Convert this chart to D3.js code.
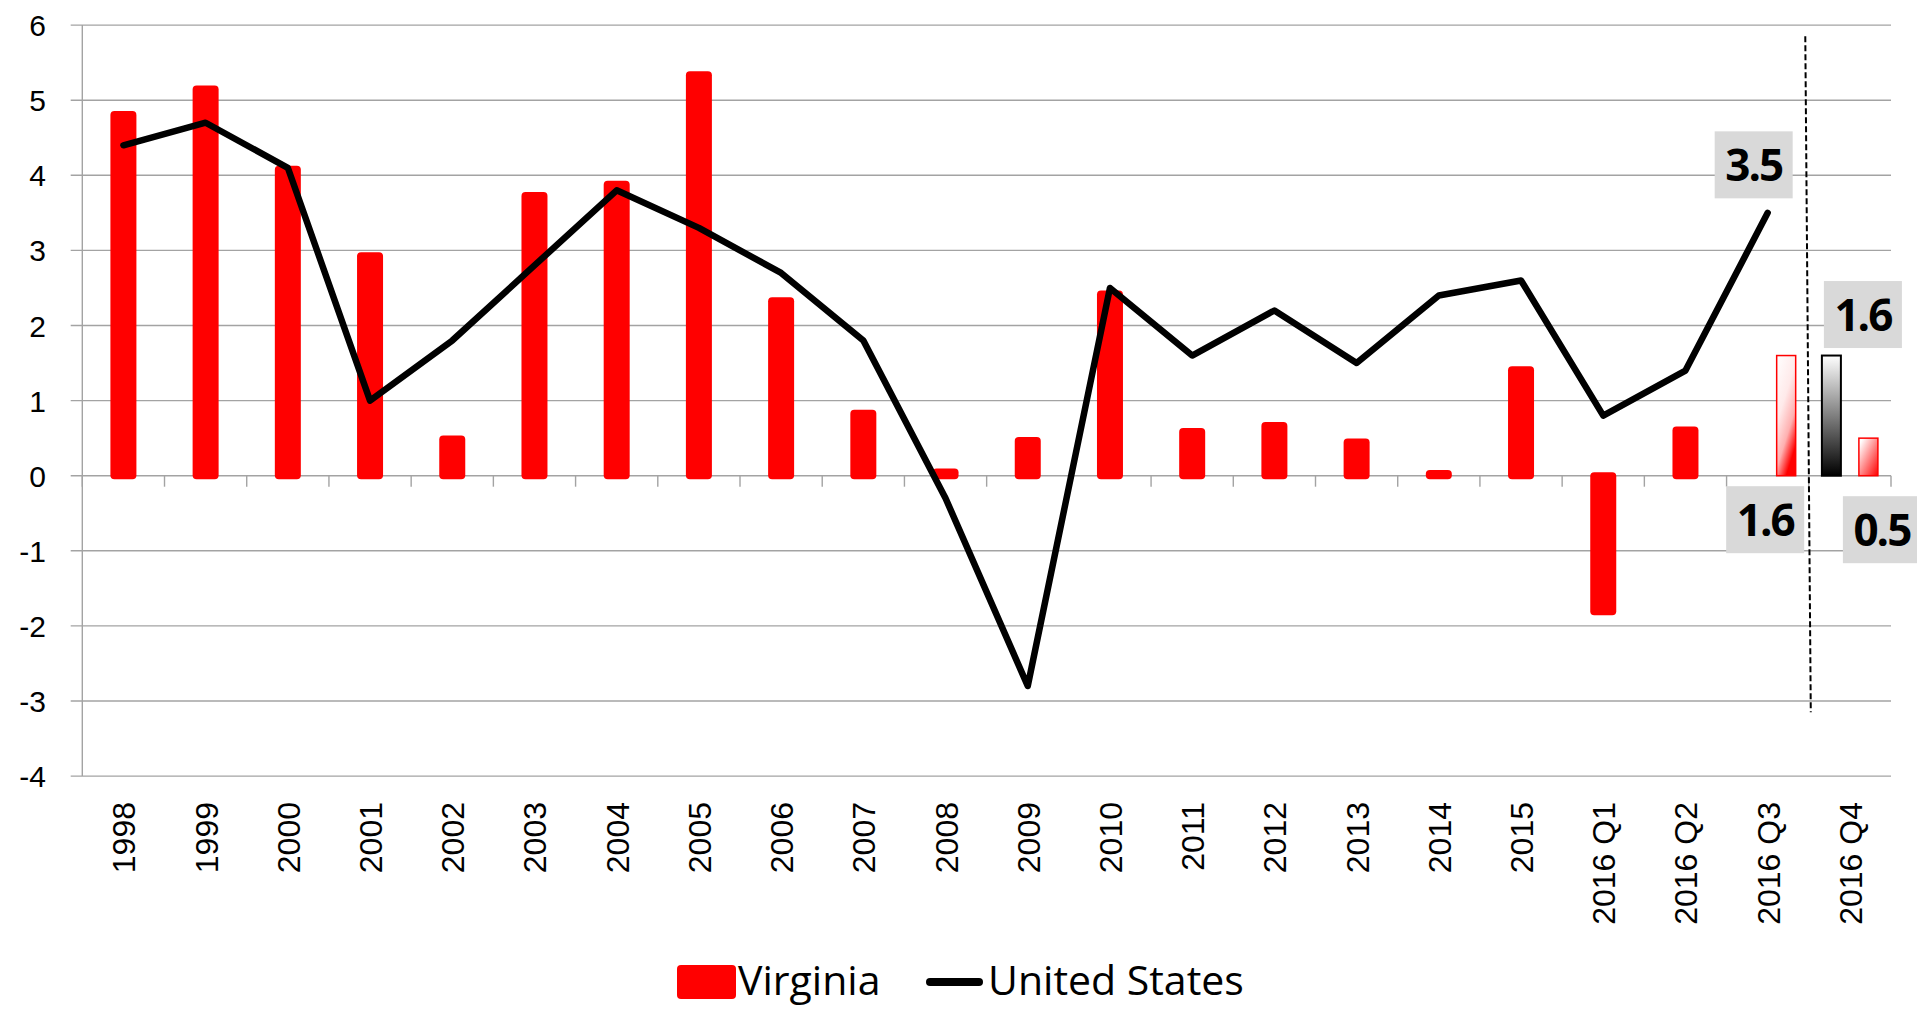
<!DOCTYPE html>
<html>
<head>
<meta charset="utf-8">
<script src="https://cdn.jsdelivr.net/npm/d3@7"></script>
<style>
  body { margin: 0; background: #fff; }
  svg { display: block; }
</style>
</head>
<body>
<div id="chart"></div>
<script>
// categories on the x axis
var categories = ['1998', '1999', '2000', '2001', '2002', '2003', '2004', '2005', '2006', '2007',
  '2008', '2009', '2010', '2011', '2012', '2013', '2014', '2015',
  '2016 Q1', '2016 Q2', '2016 Q3', '2016 Q4'];

// Virginia (red bars)
var virginia = [4.81, 5.15, 4.08, 2.93, 0.49, 3.73, 3.88, 5.34, 2.33, 0.83,
  0.05, 0.47, 2.42, 0.59, 0.67, 0.45, 0.03, 1.41,
  -1.81, 0.61, null, null];

// United States (black line)
var unitedStates = [4.4, 4.7, 4.1, 1.0, 1.8, 2.8, 3.8, 3.3, 2.7, 1.8,
  -0.3, -2.8, 2.5, 1.6, 2.2, 1.5, 2.4, 2.6,
  0.8, 1.4, 3.5, null];

// forecast bars
var virginiaForecast = [{cat: '2016 Q3', value: 1.6}, {cat: '2016 Q4', value: 0.5}];
var usForecast = [{cat: '2016 Q4', value: 1.6}];

var yTicks = [-4, -3, -2, -1, 0, 1, 2, 3, 4, 5, 6];

var W = 1917, H = 1009;
var svg = d3.select('#chart').append('svg').attr('width', W).attr('height', H);

var x = d3.scaleBand().domain(categories).range([82.3, 1891]);
var y = d3.scaleLinear().domain([-4, 6]).range([776.1, 25.1]);
var bw = x.bandwidth();

var defs = svg.append('defs');
var g1 = defs.append('linearGradient').attr('id', 'gradRed')
  .attr('x1', 0).attr('y1', 0).attr('x2', 0.5).attr('y2', 1);
g1.append('stop').attr('offset', '0%').attr('stop-color', '#fff');
g1.append('stop').attr('offset', '45%').attr('stop-color', '#ffeaea');
g1.append('stop').attr('offset', '75%').attr('stop-color', '#ffb0b0');
g1.append('stop').attr('offset', '100%').attr('stop-color', '#ff0000');
var g2 = defs.append('linearGradient').attr('id', 'gradBlack')
  .attr('x1', 0).attr('y1', 0).attr('x2', 0).attr('y2', 1);
g2.append('stop').attr('offset', '0%').attr('stop-color', '#fff');
g2.append('stop').attr('offset', '100%').attr('stop-color', '#000');
var g3 = defs.append('linearGradient').attr('id', 'gradRedSmall')
  .attr('x1', 0).attr('y1', 0).attr('x2', 1).attr('y2', 1);
g3.append('stop').attr('offset', '10%').attr('stop-color', '#fff');
g3.append('stop').attr('offset', '100%').attr('stop-color', '#ff0000');

// gridlines
svg.append('g').selectAll('line').data(yTicks).enter().append('line')
  .attr('x1', 70.7).attr('x2', x.range()[1])
  .attr('y1', function(d){ return y(d); }).attr('y2', function(d){ return y(d); })
  .attr('stroke', '#a3a3a3').attr('stroke-width', 1.4);

// y axis line
svg.append('line')
  .attr('x1', x.range()[0]).attr('x2', x.range()[0])
  .attr('y1', y(6)).attr('y2', y(-4))
  .attr('stroke', '#a3a3a3').attr('stroke-width', 1.4);

// y labels
svg.append('g').selectAll('text').data(yTicks).enter().append('text')
  .attr('x', 46).attr('y', function(d){ return y(d) + 11; })
  .attr('text-anchor', 'end')
  .style('font-family', '"Liberation Sans", Arial, sans-serif')
  .style('font-size', '30px')
  .attr('fill', '#000')
  .text(function(d){ return d; });

// x ticks at the zero line
var bounds = categories.map(function(c){ return x(c); }).concat([x.range()[1]]);
svg.append('g').selectAll('line').data(bounds).enter().append('line')
  .attr('x1', function(d){ return d; }).attr('x2', function(d){ return d; })
  .attr('y1', y(0)).attr('y2', y(0) + 11)
  .attr('stroke', '#a3a3a3').attr('stroke-width', 1.4);

// x labels
svg.append('g').selectAll('text').data(categories).enter().append('text')
  .attr('transform', function(d){
    return 'translate(' + (x(d) + bw / 2 + 12) + ',802) rotate(-90)';
  })
  .attr('text-anchor', 'end')
  .style('font-family', '"Liberation Sans", Arial, sans-serif')
  .style('font-size', '32px')
  .attr('fill', '#000')
  .text(function(d){ return d; });

// Virginia bars (rounded, stroke spills a little past the value)
var barW = 26, ext = 3.5;
var vaData = categories.map(function(c, i){ return {cat: c, value: virginia[i]}; })
  .filter(function(d){ return d.value !== null; });
svg.append('g').selectAll('rect').data(vaData).enter().append('rect')
  .attr('x', function(d){ return x(d.cat) + bw / 2 - barW / 2; })
  .attr('width', barW)
  .attr('y', function(d){ return Math.min(y(d.value), y(0)) - ext; })
  .attr('height', function(d){ return Math.abs(y(d.value) - y(0)) + 2 * ext; })
  .attr('rx', 4).attr('ry', 4)
  .attr('fill', '#ff0000');

// forecast bars
var fW = 19, off = 18.5;
svg.append('g').selectAll('rect').data(virginiaForecast).enter().append('rect')
  .attr('x', function(d){ return x(d.cat) + bw / 2 + off - fW / 2; })
  .attr('width', fW)
  .attr('y', function(d){ return y(d.value); })
  .attr('height', function(d){ return y(0) - y(d.value); })
  .attr('fill', function(d, i){ return i === 0 ? 'url(#gradRed)' : 'url(#gradRedSmall)'; })
  .attr('stroke', '#ff0000').attr('stroke-width', 1.5);

svg.append('g').selectAll('rect').data(usForecast).enter().append('rect')
  .attr('x', function(d){ return x(d.cat) + bw / 2 - off - fW / 2; })
  .attr('width', fW)
  .attr('y', function(d){ return y(d.value); })
  .attr('height', function(d){ return y(0) - y(d.value); })
  .attr('fill', 'url(#gradBlack)')
  .attr('stroke', '#000').attr('stroke-width', 2);

// US line
var usData = categories.map(function(c, i){ return {cat: c, value: unitedStates[i]}; })
  .filter(function(d){ return d.value !== null; });
var line = d3.line()
  .x(function(d){ return x(d.cat) + bw / 2; })
  .y(function(d){ return y(d.value); });
svg.append('path').datum(usData)
  .attr('d', line)
  .attr('fill', 'none').attr('stroke', '#000').attr('stroke-width', 6.5)
  .attr('stroke-linejoin', 'round').attr('stroke-linecap', 'round');

// dashed separator between actual and forecast
var sepX = x('2016 Q4');
svg.append('line')
  .attr('x1', sepX - 3.5).attr('y1', y(5.85))
  .attr('x2', sepX + 2).attr('y2', y(-3.15))
  .attr('stroke', '#000').attr('stroke-width', 2)
  .attr('stroke-dasharray', '6,3');

// data labels
function label(cx, cy, txt){
  svg.append('rect').attr('x', cx - 39).attr('y', cy - 33.5)
    .attr('width', 78).attr('height', 67).attr('fill', '#d9d9d9');
  svg.append('text').attr('x', cx).attr('y', cy + 16)
    .attr('text-anchor', 'middle')
    .style('font-family', '"Open Sans", sans-serif')
    .style('font-weight', 'bold')
    .style('font-size', '44px')
    .style('letter-spacing', '-2px')
    .attr('fill', '#000')
    .text(txt);
}
var q3 = '2016 Q3', q4 = '2016 Q4';
label(x(q3) + bw / 2 - 14, y(unitedStates[20]) - 48, unitedStates[20].toFixed(1));
label(x(q4) + bw / 2 - off + 31.5, y(usForecast[0].value) - 41, usForecast[0].value.toFixed(1));
label(x(q3) + bw / 2 + off - 21, y(0) + 44, virginiaForecast[0].value.toFixed(1));
label(x(q4) + bw / 2 + off + 13.5, y(0) + 54, virginiaForecast[1].value.toFixed(1));

// legend
var leg = svg.append('g')
  .style('font-family', '"Open Sans", sans-serif')
  .style('font-size', '41px');
leg.append('rect').attr('x', 677).attr('y', 965).attr('width', 59).attr('height', 34)
  .attr('rx', 4).attr('fill', '#ff0000');
leg.append('text').attr('x', 738).attr('y', 995).text('Virginia');
leg.append('line').attr('x1', 930).attr('x2', 979).attr('y1', 982).attr('y2', 982)
  .attr('stroke', '#000').attr('stroke-width', 8).attr('stroke-linecap', 'round');
leg.append('text').attr('x', 988).attr('y', 995).text('United States');
</script>
</body>
</html>
